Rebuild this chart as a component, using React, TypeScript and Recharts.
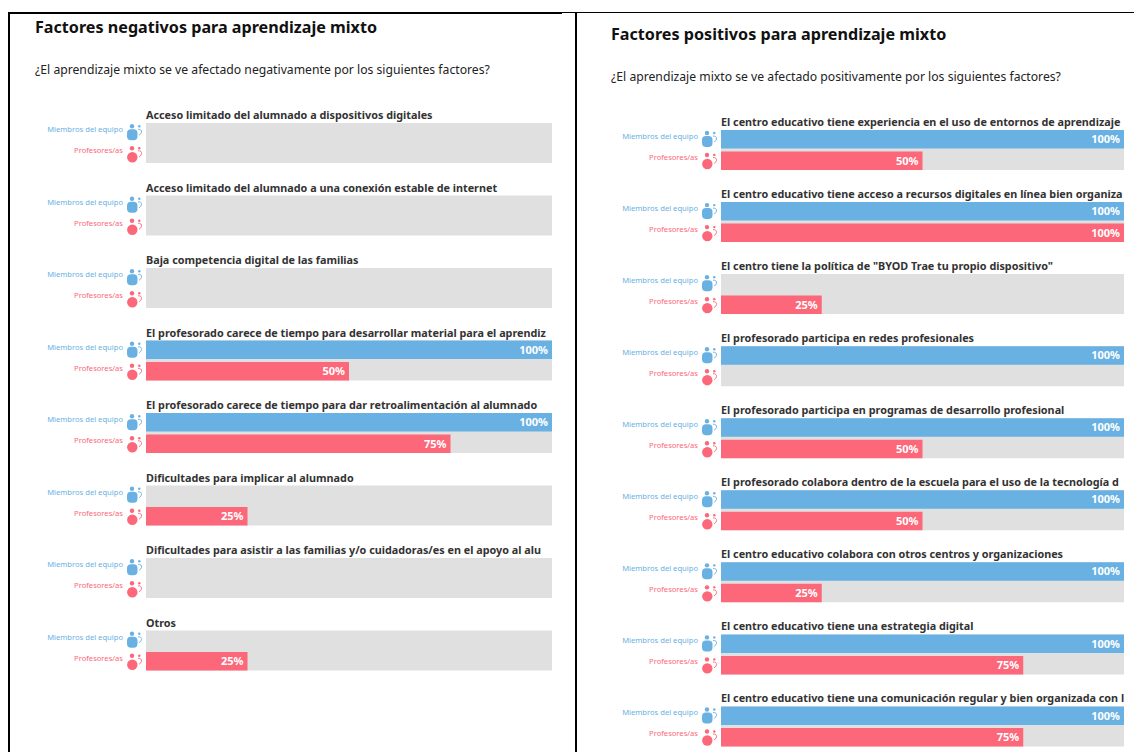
import { Bar, BarChart, LabelList, XAxis, YAxis } from 'recharts'

const BLUE = '#6ab1e3'
const RED = '#fc6779'
const GRAY = '#e0e0e0'
const FONT = '"Noto Sans", sans-serif'

const negativeFactors = [
  'Acceso limitado del alumnado a dispositivos digitales',
  'Acceso limitado del alumnado a una conexión estable de internet',
  'Baja competencia digital de las familias',
  'El profesorado carece de tiempo para desarrollar material para el aprendiz',
  'El profesorado carece de tiempo para dar retroalimentación al alumnado',
  'Dificultades para implicar al alumnado',
  'Dificultades para asistir a las familias y/o cuidadoras/es en el apoyo al alu',
  'Otros',
]
const negativeTeam = [0, 0, 0, 100, 100, 0, 0, 0]
const negativeTeachers = [0, 0, 0, 50, 75, 25, 0, 25]

const positiveFactors = [
  'El centro educativo tiene experiencia en el uso de entornos de aprendizaje',
  'El centro educativo tiene acceso a recursos digitales en línea bien organiza',
  'El centro tiene la política de "BYOD Trae tu propio dispositivo"',
  'El profesorado participa en redes profesionales',
  'El profesorado participa en programas de desarrollo profesional',
  'El profesorado colabora dentro de la escuela para el uso de la tecnología d',
  'El centro educativo colabora con otros centros y organizaciones',
  'El centro educativo tiene una estrategia digital',
  'El centro educativo tiene una comunicación regular y bien organizada con l',
]
const positiveTeam = [100, 100, 0, 100, 100, 100, 100, 100, 100]
const positiveTeachers = [50, 100, 25, 0, 50, 50, 25, 75, 75]

function FactorTick({ x, y, payload }: any) {
  return (
    <g>
      <text x={x} y={y - 24} fontFamily={FONT} fontSize={10.8} fontWeight={700} fill="#333">
        {payload.value}
      </text>
      <text x={x - 23} y={y - 11} textAnchor="end" fontFamily={FONT} fontSize={7.6} fill={BLUE}>
        Miembros del equipo
      </text>
      <circle cx={x - 14} cy={y - 17} r={2.2} fill={BLUE} />
      <rect x={x - 19} y={y - 14} width={10.5} height={11} rx={4} fill={BLUE} />
      <circle cx={x - 6.7} cy={y - 17} r={1.2} fill={BLUE} />
      <path d={`M ${x - 8} ${y - 14} q 4 0 3.5 3 q -0.5 2 -2.5 3`} stroke={BLUE} strokeWidth={0.9} fill="none" />
      <text x={x - 23} y={y + 10} textAnchor="end" fontFamily={FONT} fontSize={7.6} fill={RED}>
        Profesores/as
      </text>
      <circle cx={x - 14} cy={y + 5} r={2.2} fill={RED} />
      <circle cx={x - 13.7} cy={y + 14} r={5.2} fill={RED} />
      <circle cx={x - 6.7} cy={y + 5} r={1.2} fill={RED} />
      <path d={`M ${x - 8} ${y + 7.5} q 4 0 3.5 3 q -0.5 2 -2.5 3`} stroke={RED} strokeWidth={0.9} fill="none" />
    </g>
  )
}

const percent = (v: any) => (v ? `${v}%` : '')

function FactorChart({ factors, team, teachers, width, height, axisWidth }: {
  factors: string[]
  team: number[]
  teachers: number[]
  width: number
  height: number
  axisWidth: number
}) {
  const data = factors.map((name, i) => ({ name, track: 100, team: team[i], teachers: teachers[i] }))
  const margin = { top: 0, right: 0, bottom: 0, left: 0 }
  return (
    <div style={{ position: 'relative', width, height }}>
      {/* gris de fondo en un gráfico aparte, debajo de las dos series */}
      <div style={{ position: 'absolute', left: 0, top: 0 }}>
        <BarChart width={width} height={height} data={data} layout="vertical" margin={margin}>
          <XAxis type="number" domain={[0, 100]} hide />
          <YAxis type="category" dataKey="name" width={axisWidth} axisLine={false} tickLine={false} tick={false} />
          <Bar dataKey="track" barSize={40} fill={GRAY} isAnimationActive={false} />
        </BarChart>
      </div>
      <div style={{ position: 'absolute', left: 0, top: 0 }}>
        <BarChart width={width} height={height} data={data} layout="vertical" barGap={3} margin={margin}>
          <XAxis type="number" domain={[0, 100]} hide />
          <YAxis
            type="category"
            dataKey="name"
            width={axisWidth}
            axisLine={false}
            tickLine={false}
            tickSize={0}
            tickMargin={0}
            interval={0}
            tick={FactorTick}
          />
          <Bar dataKey="team" barSize={18.5} fill={BLUE} isAnimationActive={false}>
            <LabelList
              dataKey="team"
              position="insideRight"
              offset={4}
              formatter={percent}
              fill="#fff"
              fontFamily={FONT}
              fontSize={11}
              fontWeight={700}
            />
          </Bar>
          <Bar dataKey="teachers" barSize={18.5} fill={RED} isAnimationActive={false}>
            <LabelList
              dataKey="teachers"
              position="insideRight"
              offset={4}
              formatter={percent}
              fill="#fff"
              fontFamily={FONT}
              fontSize={11}
              fontWeight={700}
            />
          </Bar>
        </BarChart>
      </div>
    </div>
  )
}

const lineStyle = { position: 'absolute', background: '#000' } as const
const titleStyle = { position: 'absolute', margin: 0, fontFamily: FONT, fontSize: 16.15, fontWeight: 700, color: '#111', whiteSpace: 'nowrap', lineHeight: '20px' } as const
const questionStyle = { position: 'absolute', margin: 0, fontFamily: FONT, fontSize: 12.2, color: '#222', whiteSpace: 'nowrap', lineHeight: '18px' } as const

export default function App() {
  return (
    <div style={{ position: 'fixed', left: 0, top: 0, width: 1134, height: 752, overflow: 'hidden', background: '#fff' }}>
      <div style={{ ...lineStyle, left: 8, top: 12, width: 554, height: 2 }} />
      <div style={{ ...lineStyle, left: 8, top: 12, width: 2, height: 740 }} />
      <div style={{ ...lineStyle, left: 562, top: 12, width: 572, height: 1 }} />
      <div style={{ ...lineStyle, left: 575, top: 13, width: 2, height: 739 }} />

      <div style={{ ...titleStyle, left: 35, top: 17 }}>Factores negativos para aprendizaje mixto</div>
      <div style={{ ...questionStyle, left: 35, top: 61 }}>¿El aprendizaje mixto se ve afectado negativamente por los siguientes factores?</div>
      <div style={{ position: 'absolute', left: 30, top: 107 }}>
        <FactorChart factors={negativeFactors} team={negativeTeam} teachers={negativeTeachers} width={522} height={580} axisWidth={116} />
      </div>

      <div style={{ ...titleStyle, left: 611, top: 24 }}>Factores positivos para aprendizaje mixto</div>
      <div style={{ ...questionStyle, left: 611, top: 68 }}>¿El aprendizaje mixto se ve afectado positivamente por los siguientes factores?</div>
      <div style={{ position: 'absolute', left: 610, top: 114 }}>
        <FactorChart factors={positiveFactors} team={positiveTeam} teachers={positiveTeachers} width={514} height={648.5} axisWidth={111} />
      </div>
    </div>
  )
}
